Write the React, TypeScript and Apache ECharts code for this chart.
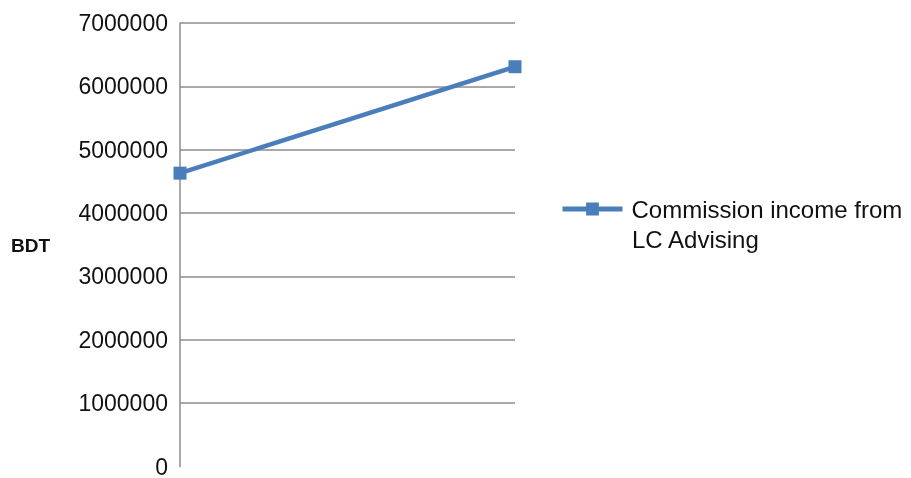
import React, { useEffect, useRef } from "react";
import * as echarts from "echarts";

const categories = ["Year 1", "Year 2"];
const seriesName = "Commission income from";
const seriesNameLine2 = "LC Advising";
const values = [4630000, 6310000];
const yTicks = { min: 0, max: 7000000, interval: 1000000 };
const axisName = "BDT";

const FONT = "Liberation Sans, Arial, sans-serif";

export default function App() {
  const ref = useRef<HTMLDivElement>(null);
  useEffect(() => {
    if (!ref.current) return;
    const chart = echarts.init(ref.current, undefined, { renderer: "svg" });
    chart.setOption({
      animation: false,
      textStyle: { fontFamily: FONT },
      grid: { left: 180, right: 396, top: 23, bottom: 7 },
      xAxis: {
        type: "category",
        data: categories,
        boundaryGap: false,
        axisLine: { show: false },
        axisTick: { show: false },
        axisLabel: { show: false },
        splitLine: { show: false },
      },
      yAxis: {
        type: "value",
        min: yTicks.min,
        max: yTicks.max,
        interval: yTicks.interval,
        axisLine: { show: true, lineStyle: { color: "#8c8c8c", width: 1.5 } },
        axisTick: { show: false },
        axisLabel: { color: "#111", fontSize: 23, margin: 12, formatter: (v: number) => String(v) },
        splitLine: { show: true, showMinLine: false, lineStyle: { color: "#8c8c8c", width: 1.5 } },
      },
      legend: {
        left: 555,
        top: 192,
        itemWidth: 60,
        itemHeight: 16,
        lineStyle: { width: 5 },
        textStyle: { fontSize: 24, color: "#111", padding: [0, 0, 0, 4] },
        data: [{ name: seriesName }],
      },
      graphic: [
        {
          type: "text",
          left: 11,
          top: 236,
          style: { text: axisName, fontSize: 19, fontWeight: "bold", fill: "#111", fontFamily: FONT },
        },
        {
          type: "text",
          left: 632,
          top: 227,
          style: { text: seriesNameLine2, fontSize: 24, fill: "#111", fontFamily: FONT },
        },
      ],
      series: [
        {
          type: "line",
          name: seriesName,
          data: values,
          symbol: "rect",
          symbolSize: 13,
          lineStyle: { color: "#4a7ebb", width: 4.5 },
          itemStyle: { color: "#4a7ebb" },
        },
      ],
    });
    return () => chart.dispose();
  }, []);
  return <div ref={ref} style={{ position: "fixed", left: 0, top: 0, width: 911, height: 478 }} />;
}
